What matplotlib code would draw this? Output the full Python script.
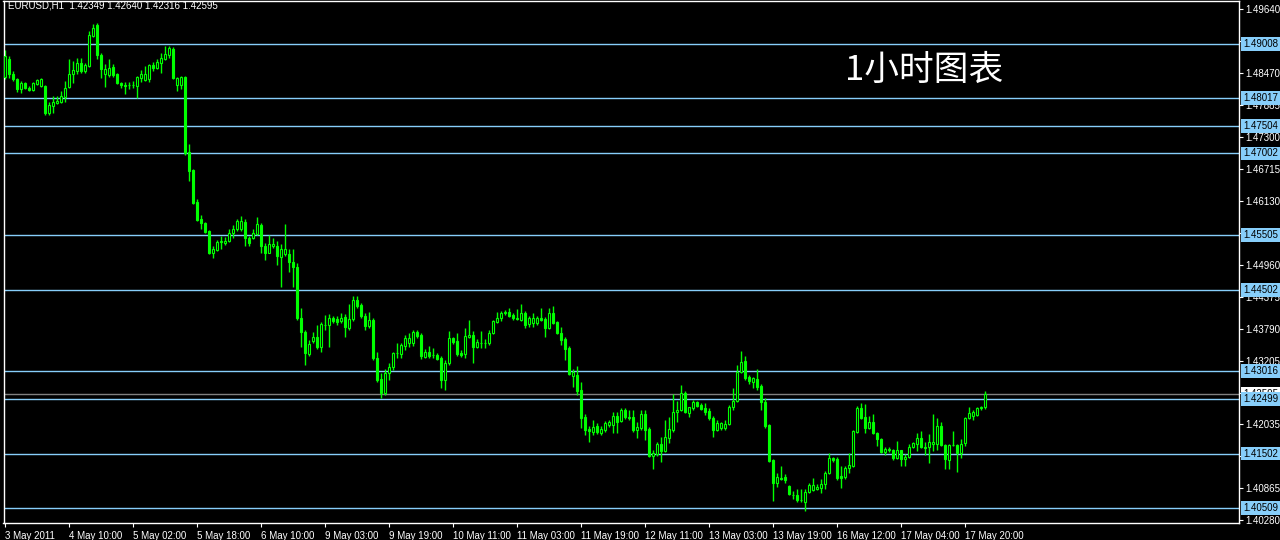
import matplotlib
matplotlib.use("Agg")
import matplotlib.pyplot as plt
import matplotlib.transforms as mtransforms

# EURUSD H1 candles (one bar per hour)
opens = [
    1.48402, 1.48732, 1.48457, 1.48366, 1.48183, 1.48292, 1.48201, 1.48165, 1.48274, 1.48238,
    1.48238, 1.47744, 1.47872, 1.47927, 1.47945, 1.48036, 1.48219, 1.48457, 1.48512, 1.48658,
    1.48512, 1.48603, 1.49153, 1.49353, 1.48805, 1.48457, 1.48439, 1.48585, 1.48457, 1.48292,
    1.48256, 1.48256, 1.48256, 1.48238, 1.48384, 1.48347, 1.48366, 1.48622, 1.48567, 1.48658,
    1.48732, 1.48805, 1.48915, 1.48256, 1.48256, 1.48402, 1.47031, 1.46702, 1.46118, 1.45806,
    1.45733, 1.45587, 1.45185, 1.45222, 1.45386, 1.45367, 1.45404, 1.45551, 1.45624, 1.45624,
    1.45752, 1.45459, 1.45459, 1.45532, 1.45697, 1.45313, 1.45185, 1.45313, 1.45313, 1.45094,
    1.45149, 1.45149, 1.45002, 1.44911, 1.43979, 1.43722, 1.43320, 1.43558, 1.43631, 1.43448,
    1.43851, 1.43851, 1.43979, 1.43960, 1.43924, 1.43997, 1.43796, 1.43960, 1.44308, 1.44216,
    1.44015, 1.43832, 1.43942, 1.43247, 1.42863, 1.42607, 1.42973, 1.43082, 1.43338, 1.43320,
    1.43466, 1.43521, 1.43521, 1.43722, 1.43667, 1.43265, 1.43356, 1.43301, 1.43301, 1.43247,
    1.42845, 1.43155, 1.43613, 1.43558, 1.43338, 1.43320, 1.43631, 1.43667, 1.43448, 1.43521,
    1.43521, 1.43521, 1.43704, 1.43905, 1.43979, 1.44070, 1.44088, 1.44033, 1.43979, 1.43942,
    1.44070, 1.43869, 1.43887, 1.43887, 1.43979, 1.43960, 1.43796, 1.44070, 1.43905, 1.43704,
    1.43594, 1.43430, 1.42918, 1.42936, 1.42662, 1.42168, 1.41949, 1.41894, 1.42004, 1.41876,
    1.41931, 1.42022, 1.42022, 1.42187, 1.42095, 1.42296, 1.42168, 1.42168, 1.41931, 1.41968,
    1.42223, 1.41949, 1.41455, 1.41492, 1.41675, 1.41547, 1.41785, 1.41931, 1.42260, 1.42296,
    1.42607, 1.42241, 1.42333, 1.42443, 1.42388, 1.42333, 1.42278, 1.42150, 1.41931, 1.41968,
    1.41968, 1.42040, 1.42351, 1.42461, 1.42991, 1.43192, 1.42900, 1.42808, 1.42863, 1.42735,
    1.42443, 1.42022, 1.41382, 1.40962, 1.41054, 1.41072, 1.40907, 1.40742, 1.40742, 1.40651,
    1.40614, 1.40797, 1.40834, 1.40852, 1.40871, 1.40944, 1.41145, 1.41419, 1.41401, 1.41090,
    1.41072, 1.41237, 1.41273, 1.41894, 1.42333, 1.42168, 1.41968, 1.42077, 1.41876, 1.41767,
    1.41528, 1.41583, 1.41565, 1.41419, 1.41565, 1.41401, 1.41437, 1.41620, 1.41675, 1.41785,
    1.41620, 1.41620, 1.41675, 1.41675, 1.42004, 1.41657, 1.41382, 1.41657, 1.41657, 1.41510,
    1.41693, 1.42150, 1.42187, 1.42205, 1.42333, 1.42349,
]
highs = [
    1.48896, 1.48787, 1.48512, 1.48384, 1.48329, 1.48311, 1.48238, 1.48311, 1.48366, 1.48384,
    1.48256, 1.47945, 1.48055, 1.48055, 1.48146, 1.48329, 1.48732, 1.48695, 1.48750, 1.48750,
    1.48658, 1.49244, 1.49371, 1.49390, 1.48841, 1.48640, 1.48732, 1.48640, 1.48475, 1.48311,
    1.48311, 1.48311, 1.48329, 1.48420, 1.48530, 1.48603, 1.48640, 1.48677, 1.48732, 1.48841,
    1.48969, 1.48969, 1.48951, 1.48402, 1.48420, 1.48420, 1.47177, 1.46721, 1.46172, 1.45880,
    1.45752, 1.45606, 1.45313, 1.45423, 1.45496, 1.45477, 1.45624, 1.45697, 1.45806, 1.45861,
    1.45806, 1.45496, 1.45624, 1.45843, 1.45733, 1.45367, 1.45514, 1.45459, 1.45404, 1.45349,
    1.45715, 1.45258, 1.45240, 1.44984, 1.44161, 1.43759, 1.43576, 1.43722, 1.43851, 1.43905,
    1.44033, 1.44052, 1.44015, 1.44015, 1.44070, 1.44052, 1.44235, 1.44381, 1.44381, 1.44253,
    1.44070, 1.44088, 1.43979, 1.43356, 1.42973, 1.43046, 1.43155, 1.43356, 1.43521, 1.43521,
    1.43667, 1.43704, 1.43759, 1.43759, 1.43704, 1.43411, 1.43466, 1.43430, 1.43338, 1.43283,
    1.43210, 1.43740, 1.43631, 1.43704, 1.43393, 1.43796, 1.43942, 1.43740, 1.43594, 1.43740,
    1.43594, 1.43759, 1.43942, 1.44088, 1.44106, 1.44125, 1.44161, 1.44070, 1.44143, 1.44235,
    1.44106, 1.44015, 1.44070, 1.44015, 1.44161, 1.43997, 1.44161, 1.44198, 1.43924, 1.43814,
    1.43631, 1.43466, 1.43046, 1.43101, 1.42808, 1.42223, 1.42004, 1.42114, 1.42059, 1.42004,
    1.42095, 1.42114, 1.42260, 1.42260, 1.42333, 1.42333, 1.42296, 1.42296, 1.42077, 1.42296,
    1.42296, 1.41986, 1.41565, 1.41711, 1.41803, 1.42114, 1.42168, 1.42589, 1.42461, 1.42753,
    1.42644, 1.42351, 1.42479, 1.42461, 1.42424, 1.42424, 1.42333, 1.42187, 1.42114, 1.42077,
    1.42114, 1.42388, 1.42699, 1.43119, 1.43375, 1.43283, 1.42936, 1.42900, 1.43046, 1.42772,
    1.42516, 1.42040, 1.41401, 1.41145, 1.41273, 1.41127, 1.40925, 1.40816, 1.40852, 1.40852,
    1.40852, 1.40962, 1.41054, 1.40944, 1.41035, 1.41182, 1.41510, 1.41437, 1.41437, 1.41273,
    1.41273, 1.41510, 1.41931, 1.42369, 1.42424, 1.42406, 1.42187, 1.42223, 1.41894, 1.41785,
    1.41620, 1.41620, 1.41583, 1.41730, 1.41565, 1.41492, 1.41675, 1.41711, 1.41876, 1.41913,
    1.41711, 1.41858, 1.42223, 1.42150, 1.42077, 1.41675, 1.41675, 1.41913, 1.41675, 1.41767,
    1.42168, 1.42351, 1.42296, 1.42351, 1.42369, 1.42640,
]
lows = [
    1.48366, 1.48384, 1.48329, 1.48128, 1.48110, 1.48183, 1.48146, 1.48146, 1.48256, 1.48219,
    1.47708, 1.47708, 1.47744, 1.47909, 1.47927, 1.47945, 1.48201, 1.48292, 1.48457, 1.48475,
    1.48475, 1.48585, 1.49134, 1.48732, 1.48384, 1.48219, 1.48402, 1.48402, 1.48274, 1.48201,
    1.48091, 1.48183, 1.48201, 1.48018, 1.48311, 1.48329, 1.48311, 1.48512, 1.48549, 1.48475,
    1.48713, 1.48750, 1.48366, 1.48146, 1.48183, 1.46977, 1.46501, 1.46081, 1.45770, 1.45624,
    1.45551, 1.45149, 1.45076, 1.45204, 1.45258, 1.45331, 1.45386, 1.45459, 1.45587, 1.45587,
    1.45313, 1.45295, 1.45441, 1.45514, 1.45185, 1.45039, 1.45167, 1.45276, 1.44947, 1.44545,
    1.45112, 1.44819, 1.44545, 1.43942, 1.43448, 1.43119, 1.43283, 1.43521, 1.43411, 1.43356,
    1.43759, 1.43448, 1.43887, 1.43851, 1.43887, 1.43631, 1.43759, 1.43924, 1.44161, 1.43979,
    1.43759, 1.43796, 1.43210, 1.42808, 1.42516, 1.42571, 1.42845, 1.43028, 1.43247, 1.43247,
    1.43393, 1.43448, 1.43466, 1.43613, 1.43228, 1.43247, 1.43247, 1.43247, 1.43210, 1.42699,
    1.42662, 1.43119, 1.43503, 1.43283, 1.43265, 1.43247, 1.43613, 1.43155, 1.43430, 1.43430,
    1.43430, 1.43484, 1.43686, 1.43887, 1.43924, 1.44033, 1.43997, 1.43942, 1.43942, 1.43924,
    1.43796, 1.43814, 1.43814, 1.43851, 1.43924, 1.43631, 1.43777, 1.43869, 1.43686, 1.43484,
    1.43210, 1.42936, 1.42717, 1.42571, 1.41968, 1.41839, 1.41711, 1.41839, 1.41858, 1.41839,
    1.41894, 1.41986, 1.41876, 1.41876, 1.42077, 1.42132, 1.42114, 1.41894, 1.41785, 1.41931,
    1.41748, 1.41437, 1.41218, 1.41455, 1.41345, 1.41528, 1.41693, 1.41894, 1.42077, 1.42278,
    1.42241, 1.42168, 1.42296, 1.42351, 1.42296, 1.42205, 1.42114, 1.41803, 1.41913, 1.41931,
    1.41931, 1.42022, 1.42296, 1.42443, 1.42973, 1.42845, 1.42772, 1.42699, 1.42662, 1.42296,
    1.41968, 1.41345, 1.40632, 1.40889, 1.41017, 1.40962, 1.40742, 1.40669, 1.40614, 1.40614,
    1.40450, 1.40779, 1.40816, 1.40834, 1.40779, 1.40852, 1.41127, 1.41345, 1.41017, 1.40871,
    1.41035, 1.41145, 1.41255, 1.41876, 1.42132, 1.41876, 1.41949, 1.41858, 1.41638, 1.41510,
    1.41474, 1.41528, 1.41382, 1.41401, 1.41273, 1.41273, 1.41419, 1.41602, 1.41547, 1.41602,
    1.41474, 1.41328, 1.41547, 1.41565, 1.41638, 1.41218, 1.41218, 1.41638, 1.41163, 1.41419,
    1.41638, 1.42132, 1.42114, 1.42187, 1.42296, 1.42316,
]
closes = [
    1.48787, 1.48457, 1.48366, 1.48183, 1.48292, 1.48201, 1.48165, 1.48292, 1.48347, 1.48366,
    1.47744, 1.47891, 1.47945, 1.47964, 1.48055, 1.48201, 1.48457, 1.48530, 1.48658, 1.48512,
    1.48622, 1.49171, 1.49299, 1.48805, 1.48549, 1.48549, 1.48567, 1.48439, 1.48292, 1.48256,
    1.48238, 1.48250, 1.48260, 1.48402, 1.48457, 1.48457, 1.48622, 1.48567, 1.48677, 1.48750,
    1.48823, 1.48933, 1.48384, 1.48384, 1.48402, 1.47013, 1.46684, 1.46099, 1.45788, 1.45733,
    1.45569, 1.45185, 1.45240, 1.45386, 1.45404, 1.45404, 1.45551, 1.45624, 1.45770, 1.45770,
    1.45459, 1.45367, 1.45551, 1.45715, 1.45295, 1.45185, 1.45349, 1.45349, 1.45112, 1.45240,
    1.45240, 1.45002, 1.44911, 1.43979, 1.43722, 1.43338, 1.43503, 1.43631, 1.43448, 1.43869,
    1.43860, 1.43979, 1.43924, 1.43905, 1.43979, 1.43814, 1.43960, 1.44308, 1.44198, 1.44015,
    1.43832, 1.43942, 1.43247, 1.42845, 1.42607, 1.42973, 1.43082, 1.43338, 1.43345, 1.43484,
    1.43613, 1.43613, 1.43722, 1.43649, 1.43283, 1.43356, 1.43283, 1.43310, 1.43228, 1.42845,
    1.43155, 1.43613, 1.43539, 1.43320, 1.43301, 1.43649, 1.43667, 1.43448, 1.43539, 1.43528,
    1.43530, 1.43704, 1.43924, 1.43979, 1.44070, 1.44088, 1.44015, 1.43979, 1.43960, 1.44070,
    1.43851, 1.43979, 1.43979, 1.43979, 1.43942, 1.43796, 1.44070, 1.43887, 1.43704, 1.43576,
    1.43411, 1.42955, 1.42991, 1.42644, 1.42150, 1.41931, 1.41913, 1.41986, 1.41894, 1.41949,
    1.42059, 1.42077, 1.42187, 1.42077, 1.42296, 1.42168, 1.42160, 1.41931, 1.41986, 1.42223,
    1.41931, 1.41455, 1.41510, 1.41675, 1.41547, 1.41803, 1.41949, 1.42260, 1.42296, 1.42607,
    1.42260, 1.42351, 1.42443, 1.42369, 1.42315, 1.42260, 1.42150, 1.41931, 1.42059, 1.42059,
    1.42040, 1.42351, 1.42461, 1.42991, 1.43174, 1.42881, 1.42827, 1.42881, 1.42717, 1.42443,
    1.42004, 1.41364, 1.40962, 1.41072, 1.41045, 1.41017, 1.40761, 1.40735, 1.40651, 1.40660,
    1.40797, 1.40925, 1.40925, 1.40889, 1.40944, 1.41145, 1.41419, 1.41382, 1.41054, 1.41054,
    1.41237, 1.41291, 1.41913, 1.42333, 1.42150, 1.41968, 1.42077, 1.41876, 1.41767, 1.41528,
    1.41583, 1.41565, 1.41419, 1.41565, 1.41401, 1.41437, 1.41620, 1.41693, 1.41785, 1.41620,
    1.41602, 1.41711, 1.41711, 1.42004, 1.41657, 1.41401, 1.41657, 1.41650, 1.41510, 1.41675,
    1.42150, 1.42241, 1.42260, 1.42333, 1.42351, 1.42595,
]

date_labels = [
    "3 May 2011", "4 May 10:00", "5 May 02:00", "5 May 18:00", "6 May 10:00",
    "9 May 03:00", "9 May 19:00", "10 May 11:00", "11 May 03:00", "11 May 19:00",
    "12 May 11:00", "13 May 03:00", "13 May 19:00", "16 May 12:00", "17 May 04:00",
    "17 May 20:00",
]
date_bars = [0, 16, 32, 48, 64, 80, 96, 112, 128, 144, 160, 176, 192, 208, 224, 240]

levels = [1.49008, 1.48017, 1.47504, 1.47002, 1.45505, 1.44502,
          1.43016, 1.42499, 1.41502, 1.40509]
price_ticks = [1.40280, 1.40865, 1.41450, 1.42035, 1.42620, 1.43205, 1.43790,
               1.44375, 1.44960, 1.45545, 1.46130, 1.46715, 1.47300, 1.47885,
               1.48470, 1.49055, 1.49640]
bid = 1.42595

GREEN = "#00ff00"
LEVEL = "#87cefa"
FONT = "Liberation Sans"

fig = plt.figure(figsize=(12.8, 5.4), dpi=100, facecolor="black")
ax = fig.add_axes([3.5 / 1280, 17 / 540, 1235.2 / 1280, 522 / 540])
ax.set_facecolor("black")

x = list(range(len(opens)))

# support / resistance levels and bid line behind the candles
for lv in levels:
    ax.axhline(lv, color=LEVEL, lw=1.0, zorder=1)
ax.axhline(bid, color="#808080", lw=1.0, zorder=1)

# candles: wick first, then body (bull = hollow, bear = filled)
ax.vlines(x, lows, highs, color=GREEN, lw=1.0, zorder=2)
bottoms = [min(o, c) for o, c in zip(opens, closes)]
heights = [abs(c - o) for o, c in zip(opens, closes)]
faces = ["black" if c > o else GREEN for o, c in zip(opens, closes)]
ax.bar(x, heights, bottom=bottoms, width=0.5, color=faces,
       edgecolor=GREEN, linewidth=0.8, zorder=3)

ax.set_xlim(-0.375, 308.4)
ax.set_ylim(1.40230, 1.49792)

for s in ax.spines.values():
    s.set_color("white")
    s.set_linewidth(1.0)

ax.yaxis.tick_right()
ax.set_yticks(price_ticks)
ax.set_yticklabels([f"{v:.5f}" for v in price_ticks])
ax.set_xticks(date_bars)
ax.set_xticklabels(date_labels, ha="left")
ax.tick_params(colors="white", labelsize=7, length=3, width=0.8, pad=2)
ax.tick_params(axis="x", pad=3)
for lab in ax.get_xticklabels() + ax.get_yticklabels():
    lab.set_fontfamily(FONT)

# price boxes on the right scale (they cover the scale labels, as in the terminal)
trans = mtransforms.blended_transform_factory(ax.transAxes, ax.transData)
for lv in levels:
    ax.text(1.0035, lv, f"{lv:.5f}", transform=trans, fontsize=7, family=FONT,
            color="black", va="center", ha="left", clip_on=False, zorder=6,
            bbox=dict(boxstyle="square,pad=0.18", fc=LEVEL, ec="none"))
ax.text(1.0035, bid, f"{bid:.5f}", transform=trans, fontsize=7, family=FONT,
        color="black", va="center", ha="left", clip_on=False, zorder=5,
        bbox=dict(boxstyle="square,pad=0.18", fc="white", ec="none"))

fig.text(8 / 1280, 1 - 6 / 540,
         "EURUSD,H1  1.42349 1.42640 1.42316 1.42595",
         color="white", fontsize=7, family=FONT, va="center", ha="left")
fig.text(845 / 1280, 1 - 70 / 540, "1小时图表", color="white", fontsize=25,
         family=["Noto Sans CJK SC", "DejaVu Sans"], va="center", ha="left")

fig.savefig("out.png", dpi=100, facecolor="black")
